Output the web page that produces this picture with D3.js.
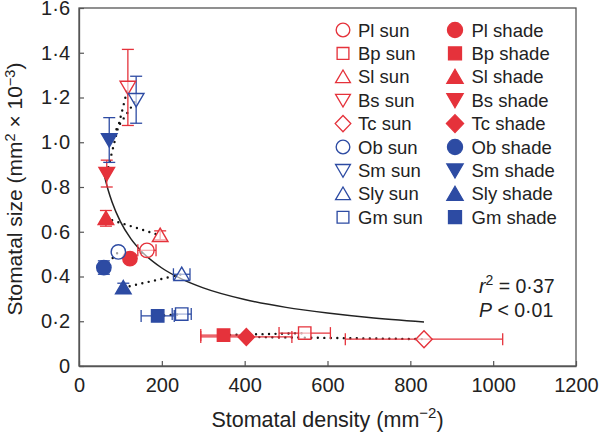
<!DOCTYPE html>
<meta charset="utf-8">
<script src="https://d3js.org/d3.v7.min.js"></script>
<style>
  body { margin: 0; background: #fff; }
  text { font-family: "Liberation Sans", Arial, sans-serif; fill: #222; }
</style>
<svg id="chart" width="600" height="433"></svg>
<script>

// Species, in legend order
var species = ["Pl", "Bp", "Sl", "Bs", "Tc", "Ob", "Sm", "Sly", "Gm"];
var shapes  = ["circle", "square", "up", "down", "diamond", "circle", "down", "up", "square"];
var groups  = ["red", "red", "red", "red", "red", "blue", "blue", "blue", "blue"];

// Sun leaves: density (mm-2), size (mm2 x 10-3) and their errors
var sunDensity    = [164, 545, 196, 118, 833, 95, 138, 248, 248];
var sunSize       = [0.517, 0.147, 0.584, 1.245, 0.12, 0.51, 1.19, 0.41, 0.232];
var sunDensityErr = [22, 62, 0, 0, 190, 0, 0, 20, 23];
var sunSizeErr    = [0, 0, 0.02, 0.17, 0, 0, 0.105, 0, 0];

// Shade leaves
var shadeDensity    = [123, 349, 65, 67, 404, 60, 73, 107, 190];
var shadeSize       = [0.48, 0.138, 0.66, 0.86, 0.13, 0.44, 1.01, 0.35, 0.224];
var shadeDensityErr = [0, 55, 0, 0, 110, 0, 0, 0, 40];
var shadeSizeErr    = [0, 0, 0.035, 0.06, 0, 0.03, 0.1, 0.02, 0];

// Fitted curve
var fitDensity = [60, 70, 80, 100, 125, 150, 200, 250, 300, 400, 500, 600, 700, 833];
var fitSize    = [0.859, 0.789, 0.732, 0.645, 0.569, 0.514, 0.438, 0.387, 0.349, 0.297, 0.262, 0.237, 0.217, 0.197];

var xTicks = [0, 200, 400, 600, 800, 1000, 1200];
var yTicks = [0, 0.2, 0.4, 0.6, 0.8, 1.0, 1.2, 1.4, 1.6];

var colors = { red: "#e5323b", blue: "#2d4ba3" };

var svg = d3.select("#chart");
var plotL = 79, plotR = 576, plotT = 8, plotB = 366;

var x = d3.scaleLinear().domain([0, 1200]).range([plotL, plotR]);
var y = d3.scaleLinear().domain([0, 1.6]).range([plotB, plotT]);

// marker path, centred on 0,0
function shapePath(s) {
  if (s == "circle") return d3.arc()({innerRadius: 0, outerRadius: 7.2, startAngle: 0, endAngle: 2 * Math.PI});
  if (s == "square") return "M-6.2,-6.2H6.2V6.2H-6.2Z";
  if (s == "up") return "M0,-7.2L7.8,6.2H-7.8Z";
  if (s == "down") return "M0,7.2L7.8,-6.2H-7.8Z";
  if (s == "diamond") return "M0,-8.5L8.2,0L0,8.5L-8.2,0Z";
}

// frame
svg.append("rect")
  .attr("x", plotL).attr("y", plotT)
  .attr("width", plotR - plotL).attr("height", plotB - plotT)
  .attr("fill", "none").attr("stroke", "#555").attr("stroke-width", 1.3);

function fmtY(d) { return d === 0 ? "0" : d3.format(".1f")(d).replace(".", "\u00b7"); }

var xAxis = svg.append("g")
  .attr("transform", "translate(0," + plotB + ")")
  .call(d3.axisBottom(x).tickValues(xTicks).tickFormat(d3.format("d")).tickSizeInner(-5).tickSizeOuter(0).tickPadding(12));
var yAxis = svg.append("g")
  .attr("transform", "translate(" + plotL + ",0)")
  .call(d3.axisLeft(y).tickValues(yTicks).tickFormat(fmtY).tickSizeInner(-5).tickSizeOuter(0).tickPadding(9));

[xAxis, yAxis].forEach(function(g) {
  g.select(".domain").attr("stroke", "#555").attr("stroke-width", 1.3);
  g.selectAll(".tick line").attr("stroke", "#555").attr("stroke-width", 1.2);
  g.selectAll(".tick text").attr("font-size", 20).attr("font-family", "Liberation Sans, Arial, sans-serif").attr("fill", "#222");
});

// axis titles
var xt = svg.append("text")
  .attr("x", (plotL + plotR) / 2).attr("y", 427)
  .attr("text-anchor", "middle").attr("font-size", 21.5);
xt.append("tspan").text("Stomatal density (mm");
xt.append("tspan").attr("dy", -9).attr("font-size", 15).text("\u22122");
xt.append("tspan").attr("dy", 9).text(")");

var yt = svg.append("text")
  .attr("transform", "translate(22,189) rotate(-90)")
  .attr("text-anchor", "middle").attr("font-size", 21);
yt.append("tspan").text("Stomatal size (mm");
yt.append("tspan").attr("dy", -7).attr("font-size", 14.5).text("2");
yt.append("tspan").attr("dy", 7).text(" \u00d7 10");
yt.append("tspan").attr("dy", -7).attr("font-size", 14.5).text("\u22123");
yt.append("tspan").attr("dy", 7).text(")");

// fitted curve
svg.append("path")
  .datum(fitDensity.map(function(d, i) { return [d, fitSize[i]]; }))
  .attr("fill", "none").attr("stroke", "#222").attr("stroke-width", 1.5)
  .attr("d", d3.line().x(function(d) { return x(d[0]); }).y(function(d) { return y(d[1]); }).curve(d3.curveMonotoneX));

// dotted sun-shade links
svg.append("g").selectAll("line")
  .data(species).enter().append("line")
    .attr("x1", function(d, i) { return x(shadeDensity[i]); })
    .attr("y1", function(d, i) { return y(shadeSize[i]); })
    .attr("x2", function(d, i) { return x(sunDensity[i]); })
    .attr("y2", function(d, i) { return y(sunSize[i]); })
    .attr("stroke", "#111").attr("stroke-width", 2.4)
    .attr("stroke-linecap", "round").attr("stroke-dasharray", "0,6.5");

// build point list
var points = [];
species.forEach(function(s, i) {
  points.push({ sp: s, i: i, shade: false, dx: sunDensity[i], dy: sunSize[i], ex: sunDensityErr[i], ey: sunSizeErr[i] });
  points.push({ sp: s, i: i, shade: true, dx: shadeDensity[i], dy: shadeSize[i], ex: shadeDensityErr[i], ey: shadeSizeErr[i] });
});

// error bars
var eb = svg.append("g");
points.forEach(function(p) {
  var c = colors[groups[p.i]];
  var px = x(p.dx), py = y(p.dy);
  if (p.ex > 0) {
    var x0 = x(p.dx - p.ex), x1 = x(p.dx + p.ex);
    eb.append("line").attr("x1", x0).attr("x2", x1).attr("y1", py).attr("y2", py).attr("stroke", c).attr("stroke-width", 1.3);
    [x0, x1].forEach(function(xx) {
      eb.append("line").attr("x1", xx).attr("x2", xx).attr("y1", py - 6).attr("y2", py + 6).attr("stroke", c).attr("stroke-width", 1.3);
    });
  }
  if (p.ey > 0) {
    var y0 = y(p.dy - p.ey), y1 = y(p.dy + p.ey);
    eb.append("line").attr("x1", px).attr("x2", px).attr("y1", y0).attr("y2", y1).attr("stroke", c).attr("stroke-width", 1.3);
    [y0, y1].forEach(function(yy) {
      eb.append("line").attr("x1", px - 6).attr("x2", px + 6).attr("y1", yy).attr("y2", yy).attr("stroke", c).attr("stroke-width", 1.3);
    });
  }
});

// markers
svg.append("g").selectAll("path")
  .data(points).enter().append("path")
    .attr("d", function(p) { return shapePath(shapes[p.i]); })
    .attr("transform", function(p) { return "translate(" + x(p.dx) + "," + y(p.dy) + ")"; })
    .attr("fill", function(p) { return p.shade ? colors[groups[p.i]] : "#fff"; })
    .attr("fill-opacity", function(p) { return p.shade ? 1 : 0.6; })
    .attr("stroke", function(p) { return colors[groups[p.i]]; })
    .attr("stroke-width", 1.4);

// legend
var legend = svg.append("g");
species.forEach(function(s, i) {
  var cy = 30 + i * 23.4;
  var c = colors[groups[i]];
  legend.append("path").attr("d", shapePath(shapes[i]))
    .attr("transform", "translate(343," + cy + ") scale(0.95)")
    .attr("fill", "#fff").attr("stroke", c).attr("stroke-width", 1.4);
  legend.append("text").attr("x", 358).attr("y", cy + 6.5).attr("font-size", 18.5).text(s + " sun");
  legend.append("path").attr("d", shapePath(shapes[i]))
    .attr("transform", "translate(455," + cy + ") scale(1.05)")
    .attr("fill", c).attr("stroke", c).attr("stroke-width", 1.2);
  legend.append("text").attr("x", 471.5).attr("y", cy + 6.5).attr("font-size", 18.5).text(s + " shade");
});

// statistics
var r2 = svg.append("text").attr("x", 479).attr("y", 293).attr("font-size", 19.5);
r2.append("tspan").attr("font-style", "italic").text("r");
r2.append("tspan").attr("dy", -8).attr("font-size", 14).text("2");
r2.append("tspan").attr("dy", 8).text(" = 0\u00b737");
var pv = svg.append("text").attr("x", 479).attr("y", 317).attr("font-size", 19.5);
pv.append("tspan").attr("font-style", "italic").text("P");
pv.append("tspan").text(" < 0\u00b701");

</script>
